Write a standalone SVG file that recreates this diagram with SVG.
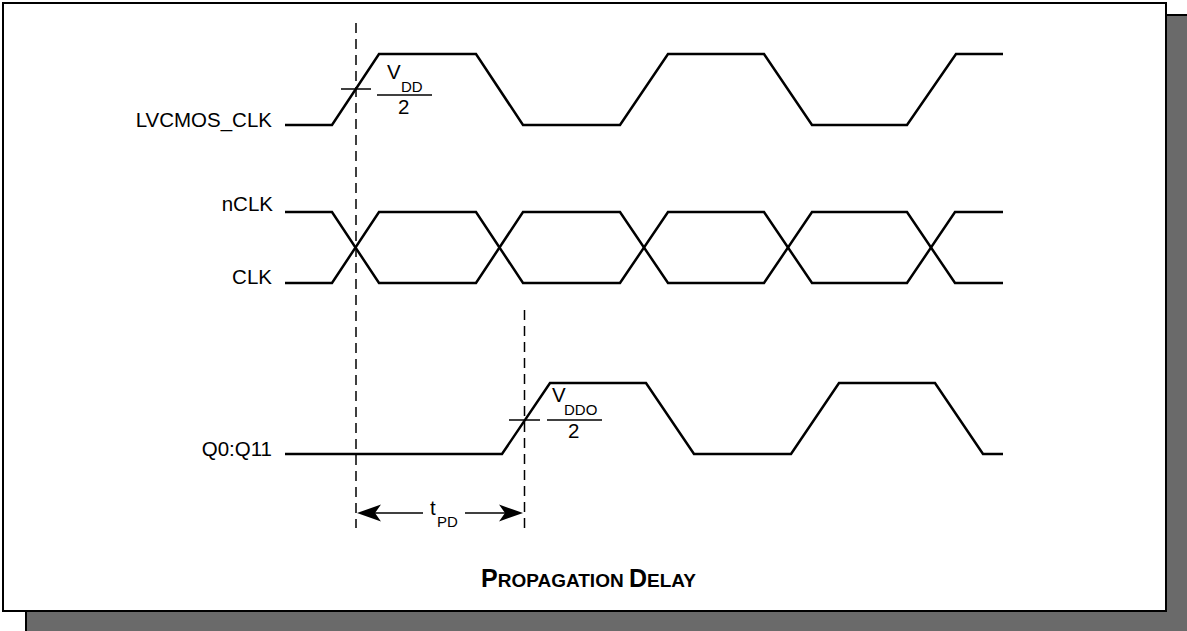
<svg xmlns="http://www.w3.org/2000/svg" width="1187" height="631" viewBox="0 0 1187 631">
<style>
.wave{fill:none;stroke:#000;stroke-width:2.5;stroke-linejoin:miter}
.dash{fill:none;stroke:#000;stroke-width:1.5;stroke-dasharray:10 6}
.thin{fill:none;stroke:#000;stroke-width:1.5}
.lbl{font-family:"Liberation Sans",Arial,sans-serif;font-size:20.5px;fill:#000}
.sub{font-family:"Liberation Sans",Arial,sans-serif;font-size:15px;fill:#000}
.title{font-family:"Liberation Sans",Arial,sans-serif;font-weight:bold;fill:#000}
</style>
<defs>
<path id="ahead" d="M0,0 L-24,-8.5 L-18,0 L-24,8.5 Z" fill="#000"/>
</defs>
<g id="frame">
<rect x="26" y="15" width="1170" height="625" fill="#6a6a6a" stroke="#000" stroke-width="2"/>
<rect x="3" y="3" width="1163" height="608" fill="#fff" stroke="#000" stroke-width="2"/>
</g>
<g id="labels">
<text class="lbl" x="272" y="127" text-anchor="end">LVCMOS_CLK</text>
<text class="lbl" x="273" y="211" text-anchor="end">nCLK</text>
<text class="lbl" x="272" y="284" text-anchor="end">CLK</text>
<text class="lbl" x="272" y="456" text-anchor="end">Q0:Q11</text>
</g>
<g id="connectors">
<path id="lvcmos" class="wave" d="M285,125 H332 L379,54 H476 L523,125 H620 L668,54 H764 L812,125 H907 L956,54 H1003"/>
<path id="nclk" class="wave" d="M285,212 H332 L379,283 H476 L523,212 H620 L668,283 H764 L812,212 H907 L955,283 H1003"/>
<path id="clk" class="wave" d="M285,283 H332 L379,212 H476 L523,283 H620 L668,212 H764 L812,283 H907 L955,212 H1003"/>
<path id="q" class="wave" d="M285,454 H502 L550,383 H646 L694,454 H791 L839,383 H935 L983,454 H1003"/>
<line class="dash" x1="356" y1="23" x2="356" y2="528"/>
<line class="dash" x1="524.5" y1="310" x2="524.5" y2="528"/>
<line class="thin" x1="341" y1="89" x2="371" y2="89"/>
<line class="thin" x1="509" y1="420" x2="540" y2="420"/>
<line class="thin" x1="370" y1="513" x2="423" y2="513"/>
<line class="thin" x1="465" y1="513" x2="510" y2="513"/>
<use href="#ahead" transform="translate(357,513) rotate(180)"/>
<use href="#ahead" transform="translate(523,513)"/>
</g>
<g id="vdd">
<text class="lbl" x="387" y="79">V</text>
<text class="sub" x="401" y="92">DD</text>
<line class="thin" x1="377" y1="95" x2="432" y2="95"/>
<text class="lbl" x="398" y="114">2</text>
</g>
<g id="vddo">
<text class="lbl" x="552" y="402">V</text>
<text class="sub" x="564" y="415">DDO</text>
<line class="thin" x1="547" y1="420" x2="602" y2="420"/>
<text class="lbl" x="568" y="438">2</text>
</g>
<g id="tpd">
<text class="lbl" x="430" y="515">t</text>
<text class="sub" x="437" y="527">PD</text>
</g>
<g id="caption">
<text class="title" x="481" y="587" font-size="19"><tspan font-size="25">P</tspan>ROPAGATION <tspan font-size="25">D</tspan>ELAY</text>
</g>
</svg>
